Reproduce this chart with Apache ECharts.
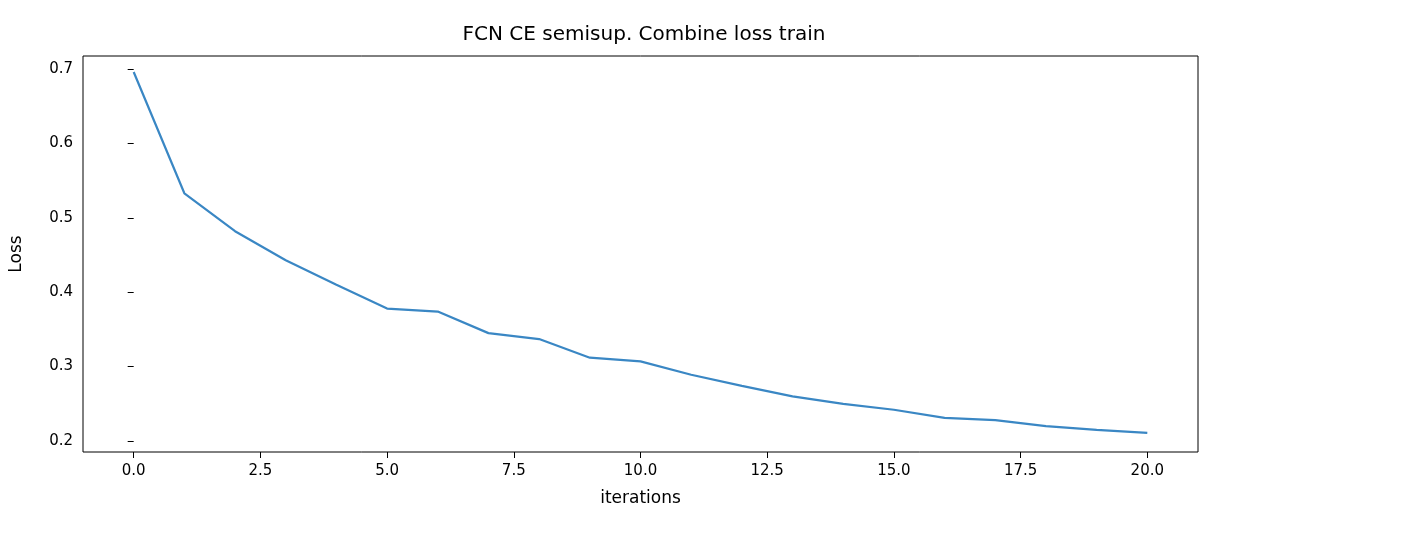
<!DOCTYPE html>
<html>
<head>
<meta charset="utf-8">
<script src="https://cdn.jsdelivr.net/npm/echarts@6/dist/echarts.min.js"></script>
<style>html,body{margin:0;padding:0;background:#fff}#chart{width:1422px;height:544px}</style>
</head>
<body>
<div id="chart"></div>
<script>
// iterations and loss values
var iterations = [0,1,2,3,4,5,6,7,8,9,10,11,12,13,14,15,16,17,18,19,20];
var loss = [0.696,0.533,0.482,0.443,0.410,0.378,0.374,0.345,0.337,0.312,0.307,0.289,0.274,0.260,0.250,0.242,0.231,0.228,0.220,0.215,0.211];
var xTicks = [0,2.5,5,7.5,10,12.5,15,17.5,20];
var yTicks = [0.2,0.3,0.4,0.5,0.6,0.7];

var font = 'DejaVu Sans';
var chart = echarts.init(document.getElementById('chart'));
chart.setOption({
	animation: false,
	title: {
		text: 'FCN CE semisup. Combine loss train',
		left: 639, top: 20, textAlign: 'center',
		textStyle: {fontFamily: font, fontSize: 20, fontWeight: 'normal', color: '#000'}
	},
	grid: {left: 81, top: 56, width: 1117, height: 396, show: true, borderColor: '#000', borderWidth: 1, backgroundColor: 'transparent'},
	xAxis: {
		type: 'value', min: -1, max: 21,
		name: 'iterations', nameLocation: 'middle', nameGap: 38,
		nameTextStyle: {fontFamily: font, fontSize: 17, color: '#000'},
		axisLine: {show: false},
		splitLine: {show: false},
		axisTick: {show: true, length: 6, lineStyle: {color: '#000'}, customValues: xTicks},
		axisLabel: {fontFamily: font, fontSize: 15, color: '#000', margin: 12, customValues: xTicks,
			formatter: function (v) { return v.toFixed(1); }}
	},
	yAxis: {
		type: 'value', min: 0.1852, max: 0.7175,
		name: 'Loss', nameLocation: 'middle', nameGap: 58,
		nameTextStyle: {fontFamily: font, fontSize: 17, color: '#000'},
		axisLine: {show: false},
		splitLine: {show: false},
		axisTick: {show: true, length: 6, lineStyle: {color: '#000'}, customValues: yTicks},
		axisLabel: {fontFamily: font, fontSize: 15, color: '#000', margin: 10, customValues: yTicks,
			formatter: function (v) { return v.toFixed(1); }}
	},
	series: [{
		type: 'line',
		data: iterations.map(function (x, i) { return [x, loss[i]]; }),
		showSymbol: false,
		lineStyle: {color: '#3a87c4', width: 2.2}
	}]
});
</script>
</body>
</html>
